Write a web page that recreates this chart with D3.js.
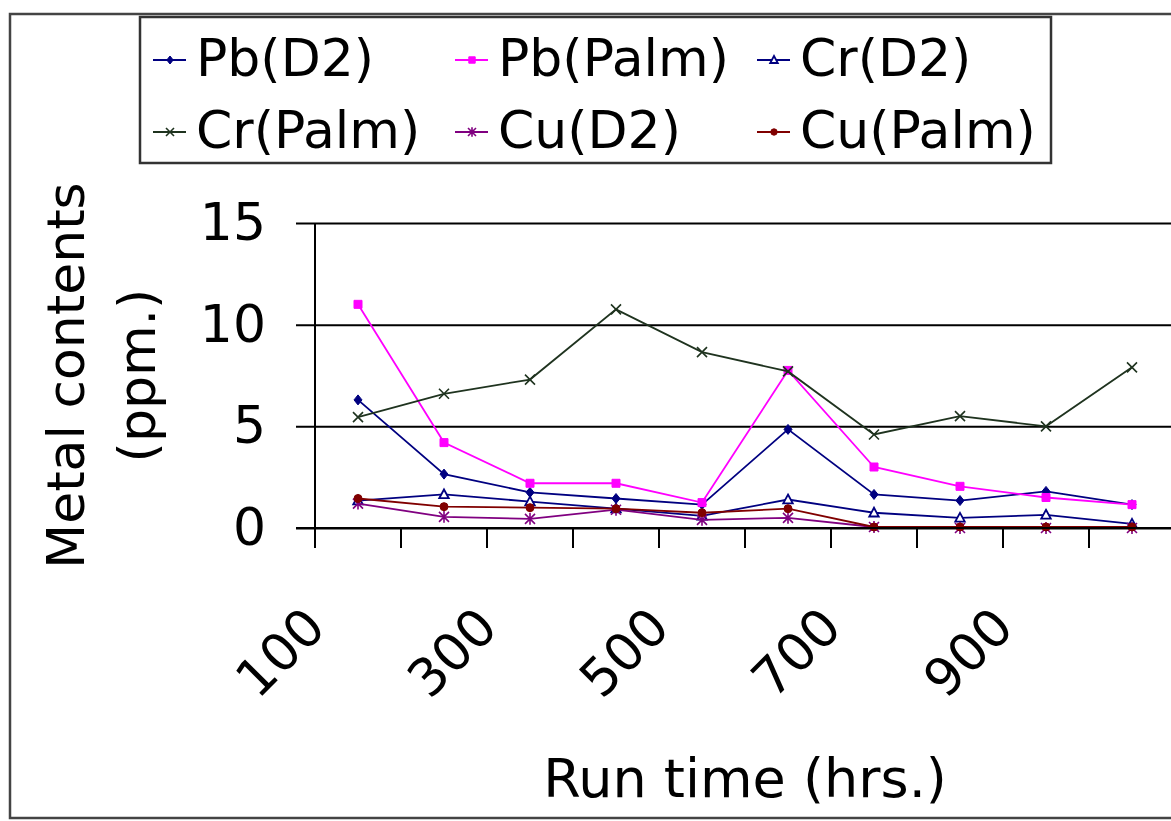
<!DOCTYPE html>
<html>
<head>
<meta charset="utf-8">
<script src="https://cdn.jsdelivr.net/npm/d3@7"></script>
<style>
  html, body { margin: 0; padding: 0; background: #fff; }
  svg { display: block; }
  text { font-family: "DejaVu Sans", Verdana, sans-serif; fill: #000; }
</style>
</head>
<body>
<svg id="chart" width="1171" height="821"></svg>
<script>
// Run time categories (hours) and the labels shown on the x axis
const runTimes = [100, 200, 300, 400, 500, 600, 700, 800, 900, 1000];
const xTickLabels = [100, 300, 500, 700, 900];
const yTicks = [0, 5, 10, 15];

// Metal contents (ppm) per run time
const pbD2    = [6.3, 2.65, 1.75, 1.45, 1.15, 4.85, 1.65, 1.35, 1.8, 1.15];
const pbPalm  = [11.0, 4.2, 2.2, 2.2, 1.25, 7.75, 3.0, 2.05, 1.5, 1.15];
const crD2    = [1.35, 1.65, 1.3, 0.95, 0.6, 1.4, 0.75, 0.5, 0.65, 0.2];
const crPalm  = [5.45, 6.6, 7.3, 10.75, 8.65, 7.7, 4.6, 5.5, 5.0, 7.9];
const cuD2    = [1.2, 0.55, 0.45, 0.9, 0.4, 0.5, 0.05, 0, 0, 0];
const cuPalm  = [1.45, 1.05, 1.0, 0.95, 0.75, 0.95, 0.05, 0.05, 0.05, 0.05];

const seriesNames = ["Pb(D2)", "Pb(Palm)", "Cr(D2)", "Cr(Palm)", "Cu(D2)", "Cu(Palm)"];
const seriesValues = [pbD2, pbPalm, crD2, crPalm, cuD2, cuPalm];
const seriesColors = ["#000080", "#ff00ff", "#000080", "#1f331f", "#800080", "#800000"];
const seriesMarkers = ["diamond", "square", "triangle", "times", "asterisk", "circle"];

const svg = d3.select("#chart");

// marker shapes centred on the origin
function markerPath(kind, s) {
  const p = d3.path();
  switch (kind) {
    case "diamond":
      p.moveTo(0, -s); p.lineTo(s * 0.8, 0); p.lineTo(0, s); p.lineTo(-s * 0.8, 0); p.closePath(); break;
    case "square":
      p.rect(-s * 0.8, -s * 0.8, s * 1.6, s * 1.6); break;
    case "triangle":
      p.moveTo(0, -s); p.lineTo(s * 0.95, s * 0.75); p.lineTo(-s * 0.95, s * 0.75); p.closePath(); break;
    case "times":
      p.moveTo(-s, -s); p.lineTo(s, s); p.moveTo(s, -s); p.lineTo(-s, s); break;
    case "asterisk":
      p.moveTo(-s, -s); p.lineTo(s, s); p.moveTo(s, -s); p.lineTo(-s, s);
      p.moveTo(0, -s * 1.2); p.lineTo(0, s * 1.2); break;
    case "circle":
      p.arc(0, 0, s * 0.8, 0, Math.PI * 2); break;
  }
  return p.toString();
}
function styleMarker(sel, kind, color) {
  if (kind === "triangle") sel.attr("fill", "#fff").attr("stroke", color).attr("stroke-width", 1.8);
  else if (kind === "times" || kind === "asterisk") sel.attr("fill", "none").attr("stroke", color).attr("stroke-width", 1.6);
  else sel.attr("fill", color).attr("stroke", color).attr("stroke-width", 1);
}

// outer chart frame
svg.append("rect")
  .attr("x", 10).attr("y", 14).attr("width", 1220).attr("height", 804)
  .attr("fill", "none").attr("stroke", "#444").attr("stroke-width", 2.5);

// scales
const x = d3.scaleBand().domain(runTimes).range([315, 1175]);
const y = d3.scaleLinear().domain([0, 15]).range([528, 223]);

// horizontal grid lines with their left tick stubs
const grid = svg.append("g").attr("transform", "translate(296,0)")
  .call(d3.axisRight(y).tickValues(yTicks).tickSize(1171 - 296).tickFormat(""));
grid.select(".domain").remove();
grid.selectAll("line").attr("stroke", "#000").attr("stroke-width", 2);

// y tick labels
const yAxis = svg.append("g").attr("transform", "translate(296,0)")
  .call(d3.axisLeft(y).tickValues(yTicks).tickSize(0).tickPadding(30));
yAxis.select(".domain").remove();
yAxis.selectAll("text").attr("font-size", 52).attr("font-family", "DejaVu Sans");

// vertical axis line
svg.append("line")
  .attr("x1", 315).attr("x2", 315).attr("y1", y(15)).attr("y2", y(0) + 20)
  .attr("stroke", "#000").attr("stroke-width", 2);

// x tick marks at category boundaries
const boundaries = runTimes.map(d => x(d)).concat([x.range()[1]]);
svg.append("g").selectAll("line").data(boundaries).join("line")
  .attr("x1", d => d).attr("x2", d => d)
  .attr("y1", y(0)).attr("y2", y(0) + 20)
  .attr("stroke", "#000").attr("stroke-width", 2);

// x tick labels, rotated
const xAxis = svg.append("g").attr("transform", `translate(0,${y(0)})`)
  .call(d3.axisBottom(x).tickValues(xTickLabels).tickSize(0).tickPadding(0));
xAxis.select(".domain").remove();
xAxis.selectAll("text")
  .attr("font-size", 52).attr("font-family", "DejaVu Sans")
  .attr("text-anchor", "end")
  .attr("dy", 0).attr("y", 0)
  .attr("transform", "translate(-30,102) rotate(-45)");

// series lines and markers
const line = d3.line().x((d, i) => x(runTimes[i]) + x.bandwidth() / 2).y(d => y(d));
seriesValues.forEach((vals, k) => {
  const g = svg.append("g");
  g.append("path").datum(vals)
    .attr("d", line).attr("fill", "none")
    .attr("stroke", seriesColors[k]).attr("stroke-width", 1.8);
  const m = g.selectAll("path.m").data(vals).join("path")
    .attr("class", "m")
    .attr("transform", (d, i) => `translate(${x(runTimes[i]) + x.bandwidth() / 2},${y(d)})`)
    .attr("d", markerPath(seriesMarkers[k], 5));
  styleMarker(m, seriesMarkers[k], seriesColors[k]);
});

// x axis line drawn over the series
svg.append("line")
  .attr("x1", 296).attr("x2", 1171).attr("y1", y(0)).attr("y2", y(0))
  .attr("stroke", "#000").attr("stroke-width", 2);

// axis titles, centred on the plot area
const plotMidY = (y(0) + y(15)) / 2;
const plotMidX = (x.range()[0] + x.range()[1]) / 2;
svg.append("text")
  .attr("transform", `translate(66,${plotMidY}) rotate(-90)`)
  .attr("text-anchor", "middle").attr("dy", "0.35em")
  .attr("font-size", 52).text("Metal contents");
svg.append("text")
  .attr("transform", `translate(137,${plotMidY}) rotate(-90)`)
  .attr("text-anchor", "middle").attr("dy", "0.35em")
  .attr("font-size", 52).text("(ppm.)");
svg.append("text")
  .attr("x", plotMidX).attr("y", 797)
  .attr("text-anchor", "middle")
  .attr("font-size", 54).text("Run time (hrs.)");

// legend
const legend = svg.append("g");
legend.append("rect")
  .attr("x", 140).attr("y", 17).attr("width", 911).attr("height", 146)
  .attr("fill", "#fff").attr("stroke", "#333").attr("stroke-width", 2.5);
const colX = [140, 442, 744];
const rowY = [60, 132];
seriesNames.forEach((name, k) => {
  const cx = colX[k % 3], cy = rowY[Math.floor(k / 3)];
  const item = legend.append("g").attr("transform", `translate(${cx},${cy})`);
  item.append("line").attr("x1", 13).attr("x2", 46).attr("y1", 0).attr("y2", 0)
    .attr("stroke", seriesColors[k]).attr("stroke-width", 1.8);
  const mk = item.append("path").attr("transform", "translate(30,0)")
    .attr("d", markerPath(seriesMarkers[k], 4));
  styleMarker(mk, seriesMarkers[k], seriesColors[k]);
  item.append("text").attr("x", 56).attr("y", 16)
    .attr("font-size", 52).text(name);
});
</script>
</body>
</html>
